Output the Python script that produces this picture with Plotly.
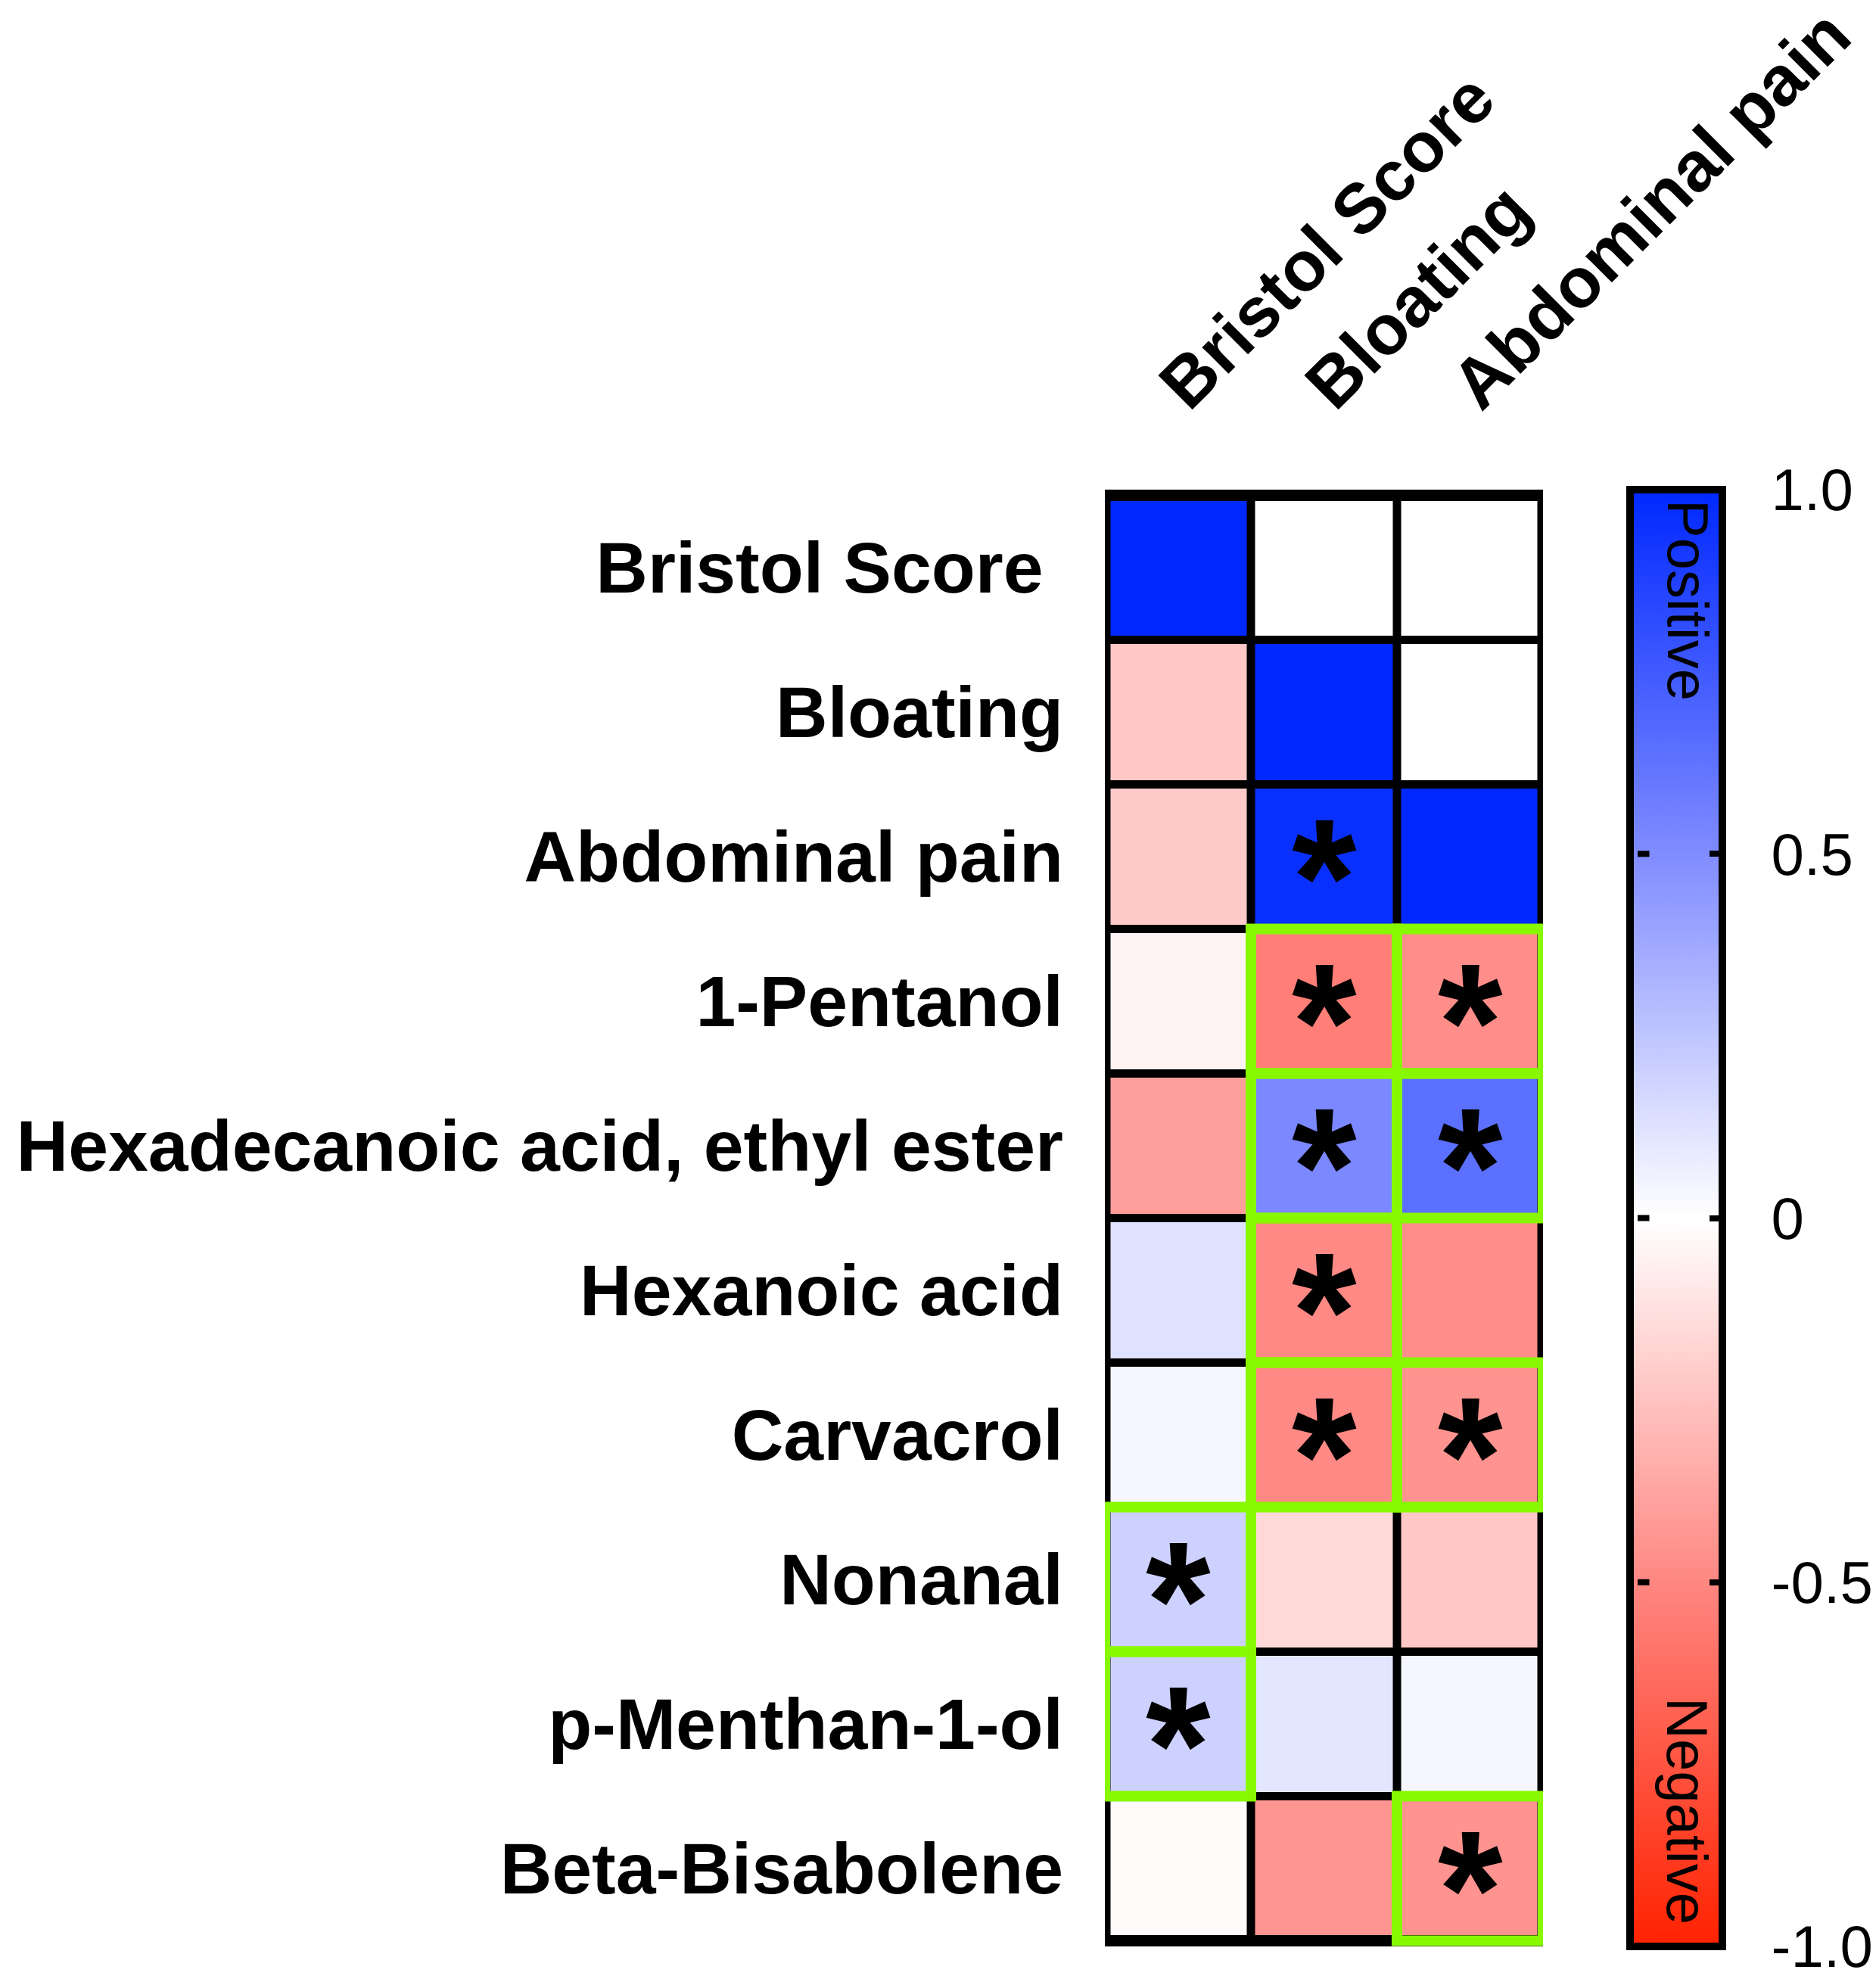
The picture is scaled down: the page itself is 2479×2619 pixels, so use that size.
import plotly.graph_objects as go

# ---------------- data ----------------
columns = ["Bristol Score", "Bloating", "Abdominal pain"]
rows = ["Bristol Score", "Bloating", "Abdominal pain", "1-Pentanol",
        "Hexadecanoic acid, ethyl ester", "Hexanoic acid", "Carvacrol",
        "Nonanal", "p-Menthan-1-ol", "Beta-Bisabolene"]
row_tick_text = ["Bristol Score\u00a0", "Bloating", "Abdominal pain", "1-Pentanol",
                 "Hexadecanoic acid, ethyl ester", "Hexanoic acid", "Carvacrol",
                 "Nonanal", "p-Menthan-1-ol", "Beta-Bisabolene"]

# correlation values per column (None = blank upper triangle)
bristol_vals   = [1.00, -0.23, -0.22, -0.05, -0.40, 0.13, 0.04, 0.20, 0.20, -0.02]
bloating_vals  = [None, 1.00, 0.96, -0.54, 0.52, -0.49, -0.49, -0.16, 0.11, -0.44]
abdominal_vals = [None, None, 1.00, -0.47, 0.64, -0.47, -0.45, -0.23, 0.04, -0.45]

# significant cells (row, column) marked with an asterisk
star_cells = [("Abdominal pain", "Bloating"),
              ("1-Pentanol", "Bloating"), ("1-Pentanol", "Abdominal pain"),
              ("Hexadecanoic acid, ethyl ester", "Bloating"),
              ("Hexadecanoic acid, ethyl ester", "Abdominal pain"),
              ("Hexanoic acid", "Bloating"),
              ("Carvacrol", "Bloating"), ("Carvacrol", "Abdominal pain"),
              ("Nonanal", "Bristol Score"), ("p-Menthan-1-ol", "Bristol Score"),
              ("Beta-Bisabolene", "Abdominal pain")]
# cells outlined in green
green_cells = [c for c in star_cells if c != ("Abdominal pain", "Bloating")]

colorbar_ticks = [-1.0, -0.5, 0.0, 0.5, 1.0]
colorbar_ticktext = ["-1.0", "-0.5", "0", "0.5", "1.0"]
colorbar_inner_ticks = [-0.5, 0.0, 0.5]

# ---------------- figure ----------------
W, H = 2479, 2619
L, R, T, B = 1460, 10, 647, H - 2572
PW, PH = W - L - R, H - T - B
HEAT_W = 2039 - L          # width of heatmap area in px
ZMIN, ZMAX = -1, 1

z = [[bristol_vals[i], bloating_vals[i], abdominal_vals[i]] for i in range(len(rows))]

colorscale = [[0.0, "rgb(255,34,0)"],
              [0.25, "rgb(255,135,130)"],
              [0.5, "rgb(255,255,255)"],
              [0.75, "rgb(128,140,255)"],
              [1.0, "rgb(0,40,255)"]]

FONT = "Liberation Sans, Arial, sans-serif"
NB = "\u00a0"

fig = go.Figure()
fig.add_trace(go.Heatmap(
    z=z, x=columns, y=rows, zmin=ZMIN, zmax=ZMAX, colorscale=colorscale,
    hoverongaps=False,
    colorbar=dict(
        thickness=122, thicknessmode="pixels",
        len=1.0, lenmode="fraction",
        x=(2154 - L) / PW, xanchor="left", xpad=0,
        y=0.5, yanchor="middle", ypad=0,
        outlinewidth=10, outlinecolor="black",
        tickvals=colorbar_ticks, ticktext=[NB * 2 + t for t in colorbar_ticktext],
        ticks="inside", ticklen=22, tickwidth=8, tickcolor="black",
        tickfont=dict(family=FONT, size=78, color="black"),
    ),
))

ncol, nrow = len(columns), len(rows)
shapes = [dict(type="rect", xref="x", yref="y", x0=-0.5, x1=ncol - 0.5,
               y0=-0.5, y1=nrow - 0.5, fillcolor="white", line=dict(width=0),
               layer="below")]
for i in range(1, ncol):
    shapes.append(dict(type="line", xref="x", yref="y", x0=i - 0.5, x1=i - 0.5,
                       y0=-0.5, y1=nrow - 0.5, line=dict(color="black", width=11)))
for j in range(1, nrow):
    shapes.append(dict(type="line", xref="x", yref="y", x0=-0.5, x1=ncol - 0.5,
                       y0=j - 0.5, y1=j - 0.5, line=dict(color="black", width=11)))
shapes.append(dict(type="rect", xref="x", yref="y", x0=-0.5, x1=ncol - 0.5,
                   y0=-0.5, y1=nrow - 0.5, line=dict(color="black", width=15)))
for r, c in green_cells:
    ri, ci = rows.index(r), columns.index(c)
    shapes.append(dict(type="rect", xref="x", yref="y", x0=ci - 0.5, x1=ci + 0.5,
                       y0=ri - 0.5, y1=ri + 0.5, line=dict(color="#88F800", width=14)))

annotations = []
for r, c in star_cells:
    annotations.append(dict(x=c, y=r, xref="x", yref="y", text="*", showarrow=False,
                            font=dict(family=FONT, size=220, color="black", weight="bold"),
                            xanchor="center", yanchor="middle", yshift=-28))


def to_paper(px, py):
    return (px - L) / PW, 1 - (py - T) / PH


px_, py_ = to_paper(2230, 658)
annotations.append(dict(x=px_, y=py_, xref="paper", yref="paper",
                        text="Positive", textangle=90, showarrow=False,
                        xanchor="center", yanchor="top",
                        font=dict(family=FONT, size=76, color="black")))
px_, py_ = to_paper(2230, 2545)
annotations.append(dict(x=px_, y=py_, xref="paper", yref="paper",
                        text="Negative", textangle=90, showarrow=False,
                        xanchor="center", yanchor="bottom",
                        font=dict(family=FONT, size=76, color="black")))

# left-hand inside tick marks of the colour bar (colour bar spans the plot height)
bar_left_x, _ = to_paper(2164, 0)
for v in colorbar_inner_ticks:
    annotations.append(dict(x=bar_left_x, y=(v - ZMIN) / (ZMAX - ZMIN),
                            xref="paper", yref="paper", text="",
                            showarrow=True, arrowhead=0, arrowwidth=8,
                            arrowcolor="black", ax=17, ay=0,
                            standoff=0, startstandoff=0))

fig.update_layout(
    width=W, height=H,
    margin=dict(l=L, r=R, t=T, b=B, autoexpand=False),
    paper_bgcolor="white", plot_bgcolor="rgba(0,0,0,0)",
    shapes=shapes, annotations=annotations,
    font=dict(family=FONT, color="black"),
    showlegend=False,
)

fig.update_xaxes(side="top", tickangle=-45, showgrid=False, zeroline=False,
                 showline=False, ticks="", ticklabelstandoff=68, ticklabelshift=-18,
                 tickfont=dict(family=FONT, size=93, color="black", weight="bold"),
                 range=[-0.5, ncol - 0.5], domain=[0, HEAT_W / PW], automargin=False)
fig.update_yaxes(autorange="reversed", showgrid=False, zeroline=False,
                 showline=False, ticks="", ticklabelstandoff=54,
                 tickmode="array", tickvals=rows, ticktext=row_tick_text,
                 tickfont=dict(family=FONT, size=95, color="black", weight="bold"),
                 automargin=False)

fig.write_html("out.html", config={"displayModeBar": False},
               post_script="document.body.style.margin='0';document.body.style.overflow='hidden';")
